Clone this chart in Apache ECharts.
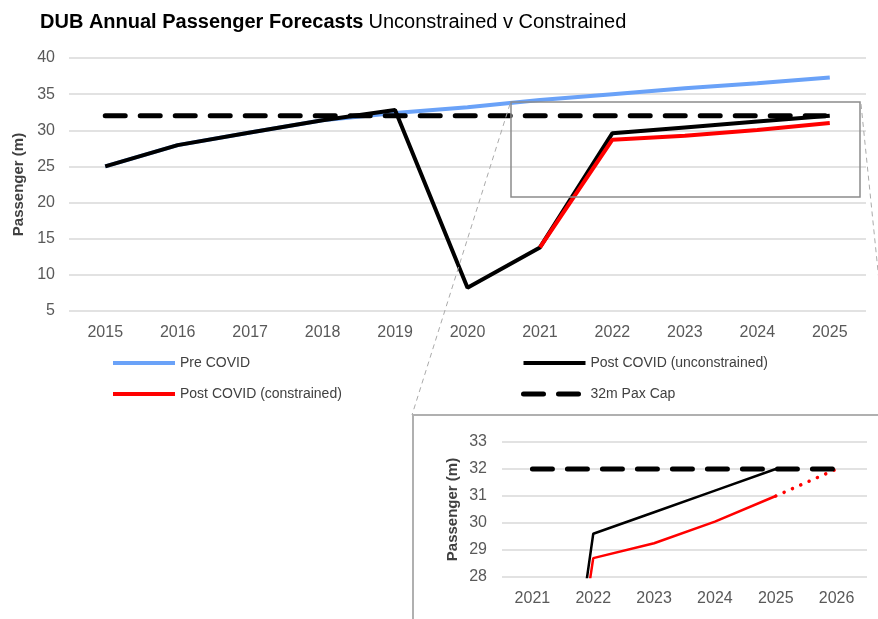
<!DOCTYPE html>
<html>
<head>
<meta charset="utf-8">
<script src="https://cdn.jsdelivr.net/npm/echarts@6/dist/echarts.min.js"></script>
<style>
  html, body { margin: 0; padding: 0; background: #fff; }
  #chart { width: 878px; height: 619px; }
</style>
</head>
<body>
<div id="chart"></div>
<script>
const years = ['2015', '2016', '2017', '2018', '2019', '2020', '2021', '2022', '2023', '2024', '2025'];
const preCovid = [25, 27.95, 29.7, 31.4, 32.4, 33.2, 34.2, 35.0, 35.8, 36.5, 37.3];
const postUnconstrained = [25, 27.95, 29.7, 31.4, 32.8, 8.2, 13.8, 29.6, 30.4, 31.2, 32.0];
const postConstrained = [null, null, null, null, null, null, 13.8, 28.7, 29.25, 30.05, 31.0];
const paxCap = [32, 32, 32, 32, 32, 32, 32, 32, 32, 32, 32];

const insetYears = ['2021', '2022', '2023', '2024', '2025', '2026'];
const insetUnconstrained = [13.8, 29.6, 30.4, 31.2, 32.0, null];
const insetConstrained = [13.8, 28.7, 29.25, 30.05, 31.0, null];
const insetConstrainedExt = [null, null, null, null, 31.0, 32.0];
const insetCap = [32, 32, 32, 32, 32, 32];

const font = 'Liberation Sans, Arial, sans-serif';
const tickColor = '#595959';
const gridColor = '#d9d9d9';
const blue = '#6aa2f8';
const red = '#ff0000';
const capDash = [20, 15];

const chart = echarts.init(document.getElementById('chart'));

const legendBase = {
  orient: 'vertical',
  top: 351,
  itemWidth: 62,
  itemHeight: 14,
  itemGap: 17,
  selectedMode: false,
  itemStyle: { opacity: 0 },
  textStyle: { fontFamily: font, fontSize: 14, color: '#404040' },
};

chart.setOption({
  animation: false,
  textStyle: { fontFamily: font },
  title: {
    left: 35,
    top: 7,
    text: '{b|DUB Annual Passenger Forecasts} {n|Unconstrained v Constrained}',
    textStyle: {
      fontWeight: 'normal',
      rich: {
        b: { fontFamily: font, fontSize: 20, fontWeight: 'bold', color: '#000' },
        n: { fontFamily: font, fontSize: 20, fontWeight: 'normal', color: '#000' },
      },
    },
  },
  legend: [
    Object.assign({}, legendBase, {
      left: 106,
      data: [
        { name: 'Pre COVID', lineStyle: { width: 4, color: blue } },
        { name: 'Post COVID (constrained)', lineStyle: { width: 4, color: red } },
      ],
    }),
    Object.assign({}, legendBase, {
      left: 516,
      data: [
        { name: 'Post COVID (unconstrained)', lineStyle: { width: 4, color: '#000' } },
        { name: '32m Pax Cap', lineStyle: { width: 5, color: '#000', type: capDash } },
      ],
    }),
  ],
  grid: [
    { left: 69, right: 12, top: 58, bottom: 308, outerBoundsMode: 'none' },
    { left: 502, right: 11, top: 442, bottom: 42, outerBoundsMode: 'none' },
  ],
  xAxis: [
    {
      gridIndex: 0,
      type: 'category',
      data: years,
      axisLine: { show: false },
      axisTick: { show: false },
      axisLabel: { color: tickColor, fontSize: 16, margin: 14 },
    },
    {
      gridIndex: 1,
      type: 'category',
      data: insetYears,
      axisLine: { show: false },
      axisTick: { show: false },
      axisLabel: { color: tickColor, fontSize: 16, margin: 14 },
    },
  ],
  yAxis: [
    {
      gridIndex: 0,
      type: 'value',
      min: 5,
      max: 40,
      interval: 5,
      name: 'Passenger (m)',
      nameLocation: 'middle',
      nameRotate: 90,
      nameGap: 43,
      nameTextStyle: { fontSize: 15, fontWeight: 'bold', color: '#404040' },
      axisLabel: { color: tickColor, fontSize: 16, margin: 14 },
      splitLine: { lineStyle: { color: gridColor, width: 1.5 } },
    },
    {
      gridIndex: 1,
      type: 'value',
      min: 28,
      max: 33,
      interval: 1,
      name: 'Passenger (m)',
      nameLocation: 'middle',
      nameRotate: 90,
      nameGap: 42,
      nameTextStyle: { fontSize: 15, fontWeight: 'bold', color: '#404040' },
      axisLabel: { color: tickColor, fontSize: 16, margin: 15 },
      splitLine: { lineStyle: { color: gridColor, width: 1.5 } },
    },
  ],
  series: [
    {
      name: 'Pre COVID',
      type: 'line',
      data: preCovid,
      symbol: 'none',
      color: blue,
      lineStyle: { width: 4, color: blue },
    },
    {
      name: 'Post COVID (unconstrained)',
      type: 'line',
      data: postUnconstrained,
      symbol: 'none',
      color: '#000',
      lineStyle: { width: 4, color: '#000' },
    },
    {
      name: 'Post COVID (constrained)',
      type: 'line',
      data: postConstrained,
      symbol: 'none',
      color: red,
      lineStyle: { width: 4, color: red },
    },
    {
      name: '32m Pax Cap',
      type: 'line',
      data: paxCap,
      symbol: 'none',
      color: '#000',
      lineStyle: { width: 5, color: '#000', type: capDash, cap: 'round' },
    },
    {
      name: 'inset unconstrained',
      type: 'line',
      xAxisIndex: 1,
      yAxisIndex: 1,
      data: insetUnconstrained,
      symbol: 'none',
      lineStyle: { width: 2.5, color: '#000' },
    },
    {
      name: 'inset constrained',
      type: 'line',
      xAxisIndex: 1,
      yAxisIndex: 1,
      data: insetConstrained,
      symbol: 'none',
      lineStyle: { width: 2.5, color: red },
    },
    {
      name: 'inset constrained ext',
      type: 'line',
      xAxisIndex: 1,
      yAxisIndex: 1,
      data: insetConstrainedExt,
      symbol: 'none',
      lineStyle: { width: 3.5, color: red, type: [0.1, 9], cap: 'round' },
    },
    {
      name: 'inset cap',
      type: 'line',
      xAxisIndex: 1,
      yAxisIndex: 1,
      data: insetCap,
      symbol: 'none',
      lineStyle: { width: 5, color: '#000', type: capDash, cap: 'round' },
    },
  ],
  graphic: [
    // zoom box on main chart
    {
      type: 'rect',
      shape: { x: 511, y: 102, width: 349, height: 95 },
      style: { fill: 'none', stroke: '#8c8c8c', lineWidth: 1.5 },
      z: 10,
    },
    {
      type: 'line',
      shape: { x1: 510, y1: 104, x2: 412, y2: 415 },
      style: { stroke: '#aaaaaa', lineWidth: 1, lineDash: [5, 4] },
      z: 10,
    },
    {
      type: 'line',
      shape: { x1: 861, y1: 104, x2: 883, y2: 320 },
      style: { stroke: '#aaaaaa', lineWidth: 1, lineDash: [5, 4] },
      z: 10,
    },
    // inset frame
    {
      type: 'rect',
      shape: { x: 413, y: 415, width: 520, height: 260 },
      style: { fill: 'none', stroke: '#b0b0b0', lineWidth: 2 },
      z: 10,
    },
  ],
});
</script>
</body>
</html>
